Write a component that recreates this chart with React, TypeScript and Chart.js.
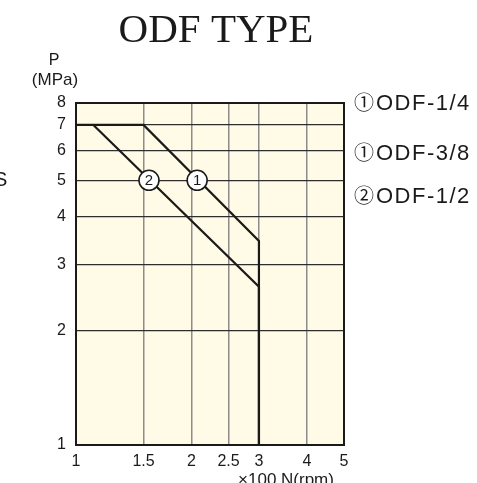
import React, { useEffect, useRef } from 'react';
import { Chart, registerables } from 'chart.js';

Chart.register(...registerables);

const titleText = 'ODF TYPE';
const xTicks = [1, 1.5, 2, 2.5, 3, 4, 5];
const yTicks = [1, 2, 3, 4, 5, 6, 7, 8];
const curve1X = [1, 1.5, 3, 3];
const curve1Y = [7, 7, 3.46, 1];
const curve2X = [1.11, 3, 3];
const curve2Y = [7, 2.62, 1];
const markerX = [2.07, 1.55];
const markerY = [5, 5];
const markerLabels = ['1', '2'];
const legendMarks = ['①', '①', '②'];
const legendLabels = ['ODF-1/4', 'ODF-3/8', 'ODF-1/2'];
const yTitle = ['P', '(MPa)'];
const xTitle = '×100 N(rpm)';

const SANS = '"Liberation Sans", Arial, sans-serif';
const SERIF = '"Liberation Serif", "Times New Roman", serif';
const CJK = '"Noto Sans CJK JP", "DejaVu Sans", sans-serif';

const decorPlugin = {
  id: 'decor',
  beforeDraw(chart: any) {
    const { ctx, chartArea: a } = chart;
    ctx.save();
    ctx.fillStyle = '#fffbe6';
    ctx.fillRect(a.left, a.top, a.right - a.left, a.bottom - a.top);
    ctx.restore();
  },
  afterDatasetsDraw(chart: any) {
    const { ctx, chartArea: a, scales } = chart;
    ctx.save();
    ctx.strokeStyle = '#1a1a1a';
    ctx.lineWidth = 2;
    ctx.strokeRect(a.left, a.top, a.right - a.left, a.bottom - a.top);
    ctx.fillStyle = '#1a1a1a';
    ctx.font = `15px ${SANS}`;
    ctx.textAlign = 'center';
    ctx.textBaseline = 'middle';
    markerLabels.forEach((t, i) => {
      const px = scales.x.getPixelForValue(markerX[i]);
      const py = scales.y.getPixelForValue(markerY[i]);
      ctx.fillText(t, px, py + 1);
    });
    ctx.restore();
  },
  afterDraw(chart: any) {
    const { ctx } = chart;
    ctx.save();
    ctx.fillStyle = '#1a1a1a';
    ctx.font = `41px ${SERIF}`;
    ctx.textAlign = 'center';
    ctx.textBaseline = 'alphabetic';
    ctx.fillText(titleText, 216, 42);
    ctx.font = `16px ${SANS}`;
    ctx.textBaseline = 'middle';
    ctx.fillText(yTitle[0], 54, 61);
    ctx.font = `17px ${SANS}`;
    ctx.fillText(yTitle[1], 55, 80);
    ctx.textBaseline = 'top';
    ctx.fillText(xTitle, 286, 472);
    ctx.textAlign = 'left';
    ctx.textBaseline = 'middle';
    const ys = [104, 154, 197];
    legendLabels.forEach((t, i) => {
      ctx.font = `20px ${CJK}`;
      ctx.fillText(legendMarks[i], 354, ys[i] - 1.5);
      ctx.font = `22px ${SANS}`;
      try { (ctx as any).letterSpacing = '1.5px'; } catch (e) {}
      ctx.fillText(t, 376, ys[i]);
      try { (ctx as any).letterSpacing = '0px'; } catch (e) {}
    });
    ctx.font = `20px ${SANS}`;
    ctx.fillText('S', -6, 180);
    ctx.restore();
  },
};

export default function App() {
  const ref = useRef<HTMLCanvasElement | null>(null);
  useEffect(() => {
    if (!ref.current) return;
    const pts = (xs: number[], ys: number[]) => xs.map((x, i) => ({ x, y: ys[i] }));
    const chart = new Chart(ref.current, {
      type: 'line',
      data: {
        datasets: [
          {
            label: 'markers',
            data: pts(markerX, markerY),
            showLine: false,
            pointRadius: 10,
            pointBackgroundColor: '#ffffff',
            pointBorderColor: '#1a1a1a',
            pointBorderWidth: 1.6,
            order: 0,
          },
          {
            label: 'curve1',
            data: pts(curve1X, curve1Y),
            borderColor: '#1a1a1a',
            borderWidth: 2.2,
            pointRadius: 0,
            fill: false,
            tension: 0,
            order: 1,
          },
          {
            label: 'curve2',
            data: pts(curve2X, curve2Y),
            borderColor: '#1a1a1a',
            borderWidth: 2.2,
            pointRadius: 0,
            fill: false,
            tension: 0,
            order: 2,
          },
        ],
      },
      options: {
        animation: false,
        responsive: true,
        maintainAspectRatio: false,
        layout: { padding: { top: 103, right: 133, left: 0, bottom: 0 } },
        plugins: { legend: { display: false }, tooltip: { enabled: false }, title: { display: false } },
        scales: {
          x: {
            type: 'logarithmic',
            min: 1,
            max: 5,
            position: 'bottom',
            afterBuildTicks: (s: any) => {
              s.ticks = xTicks.map((v) => ({ value: v }));
            },
            afterFit: (s: any) => {
              s.height = 38;
            },
            ticks: {
              autoSkip: false,
              maxRotation: 0,
              padding: 7,
              color: '#1a1a1a',
              font: { family: SANS, size: 16 },
              callback: (v: any) => String(v),
            },
            grid: { color: '#8c8c8c', lineWidth: 1.5, drawTicks: false },
            border: { display: true, color: '#1a1a1a', width: 2 },
          },
          y: {
            type: 'logarithmic',
            min: 1,
            max: 8,
            afterBuildTicks: (s: any) => {
              s.ticks = yTicks.map((v) => ({ value: v }));
            },
            afterFit: (s: any) => {
              s.width = 76;
            },
            ticks: {
              autoSkip: false,
              padding: 10,
              color: '#1a1a1a',
              font: { family: SANS, size: 16 },
              callback: (v: any) => String(v),
            },
            grid: { color: '#2e2e2e', lineWidth: 1.2, drawTicks: false },
            border: { display: true, color: '#1a1a1a', width: 2 },
          },
        },
      },
      plugins: [decorPlugin],
    } as any);
    return () => chart.destroy();
  }, []);
  return (
    <div style={{ position: 'fixed', left: 0, top: 0, width: 477, height: 483, background: '#fff' }}>
      <canvas ref={ref} />
    </div>
  );
}
